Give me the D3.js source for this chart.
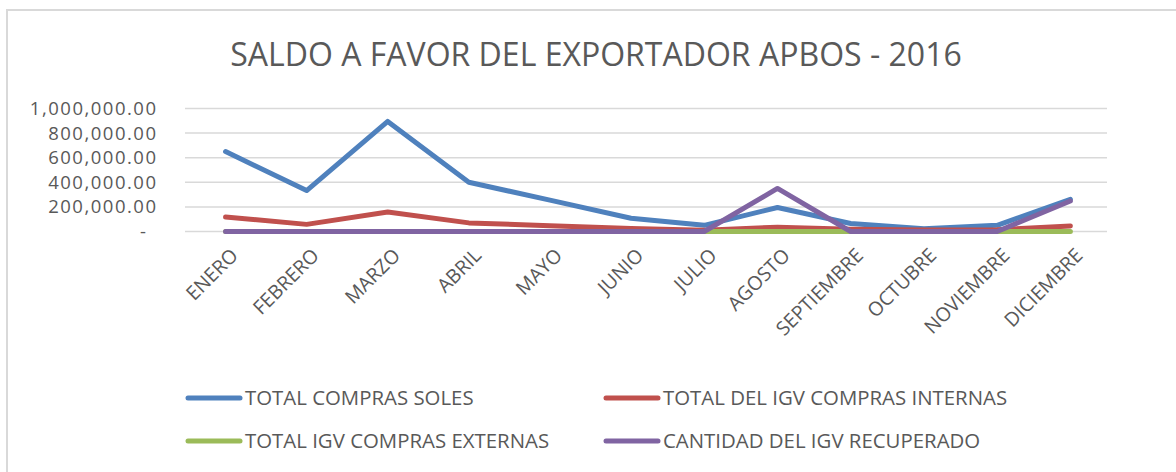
<!DOCTYPE html>
<html>
<head>
<meta charset="utf-8">
<script src="https://cdn.jsdelivr.net/npm/d3@7"></script>
<style>
  body { margin: 0; background: #fff; }
  text { font-family: "Open Sans", sans-serif; fill: #595959; }
</style>
</head>
<body>
<div id="chart"></div>
<script>
var months = ["ENERO", "FEBRERO", "MARZO", "ABRIL", "MAYO", "JUNIO", "JULIO",
  "AGOSTO", "SEPTIEMBRE", "OCTUBRE", "NOVIEMBRE", "DICIEMBRE"];

var totalComprasSoles = [650000, 333000, 895000, 400000, 255000, 108000, 50000, 195000, 65000, 22000, 50000, 262000];
var totalIgvInternas = [118000, 58000, 158000, 70000, 47000, 25000, 10000, 35000, 18000, 12000, 14000, 45000];
var totalIgvExternas = [0, 0, 0, 0, 0, 0, 0, 0, 0, 0, 0, 0];
var igvRecuperado = [0, 0, 0, 0, 0, 0, 0, 350000, 0, 0, 0, 248000];

var seriesNames = ["TOTAL COMPRAS SOLES", "TOTAL DEL IGV COMPRAS INTERNAS",
  "TOTAL IGV COMPRAS EXTERNAS", "CANTIDAD DEL IGV RECUPERADO"];
var yTicks = [0, 200000, 400000, 600000, 800000, 1000000];

var title = "SALDO A FAVOR DEL EXPORTADOR APBOS - 2016";

var width = 1176;
var height = 472;
var colors = ["#4f81bd", "#c0504d", "#9bbb59", "#8064a2"];

var data = [totalComprasSoles, totalIgvInternas, totalIgvExternas, igvRecuperado].map(function(values, i) {
  return { name: seriesNames[i], values: values };
});

var svg = d3.select("#chart").append("svg")
  .attr("width", width)
  .attr("height", height);

// chart frame (only top and left edges show in the crop)
svg.append("path")
  .attr("d", "M7," + height + " V10 H" + width)
  .attr("fill", "none")
  .attr("stroke", "#d9d9d9")
  .attr("stroke-width", 2);

/* Title */
var t = svg.append("text")
  .attr("x", 596)
  .attr("y", 66)
  .attr("text-anchor", "middle")
  .style("font-size", "32px")
  .text(title);
var tw = t.node().getComputedTextLength();
t.style("font-size", (32 * 732 / tw) + "px");

/* Scales */
// category positions are not evenly spaced in the original picture
var xScale = d3.scaleLinear()
  .domain([-0.5, 5, 11.5])
  .range([185, 631, 1107]);

var yScale = d3.scaleLinear()
  .domain([0, 1000000])
  .range([231.5, 108.5]);

/* Grid */
svg.append("g")
  .selectAll("line")
  .data(yTicks).enter()
  .append("line")
  .attr("x1", xScale(-0.5))
  .attr("x2", xScale(11.5))
  .attr("y1", d => yScale(d))
  .attr("y2", d => yScale(d))
  .attr("stroke", "#d9d9d9")
  .attr("stroke-width", 1.5);

/* Y axis labels */
var fmt = d3.format(",.2f");
svg.append("g")
  .selectAll("text")
  .data(yTicks).enter()
  .append("text")
  .attr("x", d => d === 0 ? 147.5 : 157.5)
  .attr("y", d => yScale(d))
  .attr("dy", "0.35em")
  .attr("text-anchor", "end")
  .style("font-size", "18.5px")
  .style("letter-spacing", "1.5px")
  .text(d => d === 0 ? "-" : fmt(d));

/* X axis labels */
svg.append("g")
  .selectAll("text")
  .data(months).enter()
  .append("text")
  .attr("transform", (d, i) => "translate(" + (xScale(i) + 4) + ",247) rotate(-45)")
  .attr("text-anchor", "end")
  .attr("dy", "0.7em")
  .style("font-size", "19.5px")
  .text(d => d);

/* Lines */
var line = d3.line()
  .x((d, i) => xScale(i))
  .y(d => yScale(d));

svg.append("g")
  .selectAll("path")
  .data(data).enter()
  .append("path")
  .attr("d", d => line(d.values))
  .attr("fill", "none")
  .attr("stroke", (d, i) => colors[i])
  .attr("stroke-width", 5)
  .attr("stroke-linejoin", "round")
  .attr("stroke-linecap", "round");

/* Legend */
var legendPos = [[186, 398], [604, 398], [186, 441], [604, 441]];

var legend = svg.selectAll(".legend")
  .data(data).enter()
  .append("g")
  .attr("class", "legend")
  .attr("transform", (d, i) => "translate(" + legendPos[i][0] + "," + legendPos[i][1] + ")");

legend.append("line")
  .attr("x1", 2).attr("x2", 54)
  .attr("stroke", (d, i) => colors[i])
  .attr("stroke-width", 5)
  .attr("stroke-linecap", "round");

legend.append("text")
  .attr("x", 59)
  .attr("dy", "0.35em")
  .style("font-size", "20.4px")
  .text(d => d.name);
</script>
</body>
</html>
